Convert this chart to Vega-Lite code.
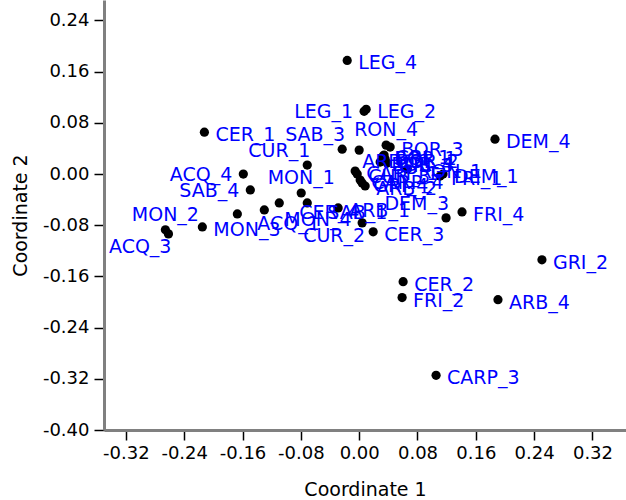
{
  "$schema": "https://vega.github.io/schema/vega-lite/v6.json",
  "width": 522,
  "height": 430,
  "autosize": {"type": "none"},
  "padding": {"left": 104, "top": 0, "right": 0, "bottom": 70},
  "background": "white",
  "config": {"view": {"stroke": null}, "font": "DejaVu Sans"},
  "data": {"values": [
    {"label": "LEG_4", "x": -0.0164, "y": 0.1776},
    {"label": "LEG_2", "x": 0.0096, "y": 0.1012},
    {"label": "LEG_1", "x": 0.0068, "y": 0.0981},
    {"label": "CER_1", "x": -0.2123, "y": 0.0654},
    {"label": "DEM_4", "x": 0.1863, "y": 0.0545},
    {"label": "SAB_3", "x": -0.0233, "y": 0.0389},
    {"label": "ARB_3", "x": 0.0, "y": 0.0374},
    {"label": "RON_4", "x": 0.037, "y": 0.0452},
    {"label": "BOR_3", "x": 0.0425, "y": 0.0421},
    {"label": "CUR_1", "x": -0.0712, "y": 0.014},
    {"label": "ACQ_4", "x": -0.1589, "y": 0.0},
    {"label": "SAB_4", "x": -0.1493, "y": -0.0249},
    {"label": "MON_1", "x": -0.0795, "y": -0.0296},
    {"label": "MON_3", "x": -0.2151, "y": -0.0826},
    {"label": "MON_2", "x": -0.2658, "y": -0.0872},
    {"label": "ACQ_3", "x": -0.2616, "y": -0.0935},
    {"label": "ACQ_1", "x": -0.1671, "y": -0.0623},
    {"label": "MON_4", "x": -0.1301, "y": -0.0561},
    {"label": "CER_4", "x": -0.1096, "y": -0.0452},
    {"label": "SAB_1", "x": -0.0712, "y": -0.0452},
    {"label": "ARB_1", "x": -0.0288, "y": -0.053},
    {"label": "CUR_2", "x": 0.0041, "y": -0.0763},
    {"label": "CER_3", "x": 0.0192, "y": -0.0903},
    {"label": "DEM_3", "x": 0.1192, "y": -0.0685},
    {"label": "FRI_4", "x": 0.1411, "y": -0.0592},
    {"label": "GRI_2", "x": 0.2507, "y": -0.134},
    {"label": "CER_2", "x": 0.0603, "y": -0.1682},
    {"label": "FRI_2", "x": 0.0589, "y": -0.1931},
    {"label": "ARB_4", "x": 0.1904, "y": -0.1963},
    {"label": "CARP_3", "x": 0.1055, "y": -0.3146},
    {"label": "DEM_1", "x": 0.1151, "y": 0.0},
    {"label": "FRI_1", "x": 0.111, "y": -0.0031},
    {"label": "BOR_1", "x": 0.0329, "y": 0.028},
    {"label": "BOR_2", "x": 0.0356, "y": 0.0234},
    {"label": "BOR_4", "x": 0.0288, "y": 0.0187},
    {"label": "GRI_1", "x": 0.0342, "y": 0.0296},
    {"label": "GRI_3", "x": 0.0384, "y": 0.0171},
    {"label": "CARP_1", "x": -0.0055, "y": 0.0047},
    {"label": "CUR_3", "x": -0.0027, "y": 0.0},
    {"label": "CARP_4", "x": 0.0014, "y": -0.0093},
    {"label": "GRI_4", "x": 0.0041, "y": -0.014},
    {"label": "RON_1", "x": 0.0658, "y": 0.0078},
    {"label": "ARB_2", "x": 0.0082, "y": -0.0187}
  ]},
  "encoding": {
    "x": {
      "field": "x", "type": "quantitative",
      "scale": {"domain": [-0.35, 0.366], "nice": false, "zero": false},
      "axis": {
        "title": "Coordinate 1",
        "values": [-0.32, -0.24, -0.16, -0.08, 0, 0.08, 0.16, 0.24, 0.32],
        "labelExpr": "replace(format(datum.value, '.2f'), '\u2212', '-')",
        "grid": false,
        "domainColor": "#808080", "domainWidth": 3,
        "tickColor": "#000000", "tickSize": 10, "tickWidth": 1.5,
        "labelFontSize": 18, "labelColor": "#000000", "labelPadding": 4, "labelFont": "DejaVu Sans",
        "titleFontSize": 19, "titleFontWeight": "normal", "titleColor": "#000000", "titlePadding": 18, "titleFont": "DejaVu Sans"
      }
    },
    "y": {
      "field": "y", "type": "quantitative",
      "scale": {"domain": [-0.4, 0.272], "nice": false, "zero": false},
      "axis": {
        "title": "Coordinate 2",
        "values": [-0.4, -0.32, -0.24, -0.16, -0.08, 0, 0.08, 0.16, 0.24],
        "labelExpr": "replace(format(datum.value, '.2f'), '\u2212', '-')",
        "grid": false,
        "domainColor": "#808080", "domainWidth": 3,
        "tickColor": "#000000", "tickSize": 10, "tickWidth": 1.5,
        "labelFontSize": 18, "labelColor": "#000000", "labelPadding": 5, "labelFont": "DejaVu Sans",
        "titleFontSize": 19, "titleFontWeight": "normal", "titleColor": "#000000", "titlePadding": 12, "titleFont": "DejaVu Sans"
      }
    }
  },
  "layer": [
    {"mark": {"type": "circle", "size": 85, "color": "#000000", "opacity": 1}},
    {
      "transform": [{"filter": {"field": "label", "oneOf": ["LEG_4", "LEG_2", "CER_1", "DEM_4", "BOR_3", "MON_3", "ARB_1", "CER_3", "FRI_4", "GRI_2", "CER_2", "FRI_2", "ARB_4", "CARP_3", "DEM_1", "FRI_1", "BOR_1", "BOR_2", "BOR_4", "GRI_1", "GRI_3", "CARP_1", "CUR_3", "CARP_4", "GRI_4", "RON_1", "ARB_2"]}}],
      "mark": {"type": "text", "align": "left", "baseline": "middle", "dx": 11, "dy": 3, "color": "#0000ff", "fontSize": 19, "font": "DejaVu Sans"},
      "encoding": {"text": {"field": "label"}}
    },
    {
      "transform": [{"filter": {"field": "label", "oneOf": ["LEG_1", "ACQ_4", "SAB_4"]}}],
      "mark": {"type": "text", "align": "right", "baseline": "middle", "dx": -11, "dy": 1, "color": "#0000ff", "fontSize": 19, "font": "DejaVu Sans"},
      "encoding": {"text": {"field": "label"}}
    },
    {
      "transform": [{"filter": {"field": "label", "oneOf": ["RON_4", "MON_1", "MON_2"]}}],
      "mark": {"type": "text", "align": "center", "baseline": "middle", "dx": 0, "dy": -15, "color": "#0000ff", "fontSize": 19, "font": "DejaVu Sans"},
      "encoding": {"text": {"field": "label"}}
    },
    {
      "transform": [{"filter": {"field": "label", "oneOf": ["SAB_3", "CUR_1", "DEM_3"]}}],
      "mark": {"type": "text", "align": "right", "baseline": "middle", "dx": 3, "dy": -14, "color": "#0000ff", "fontSize": 19, "font": "DejaVu Sans"},
      "encoding": {"text": {"field": "label"}}
    },
    {
      "transform": [{"filter": {"field": "label", "oneOf": ["ACQ_3", "CUR_2"]}}],
      "mark": {"type": "text", "align": "right", "baseline": "middle", "dx": 3, "dy": 13, "color": "#0000ff", "fontSize": 19, "font": "DejaVu Sans"},
      "encoding": {"text": {"field": "label"}}
    },
    {
      "transform": [{"filter": {"field": "label", "oneOf": ["ARB_3"]}}],
      "mark": {"type": "text", "align": "left", "baseline": "middle", "dx": 3, "dy": 12, "color": "#0000ff", "fontSize": 19, "font": "DejaVu Sans"},
      "encoding": {"text": {"field": "label"}}
    },
    {
      "transform": [{"filter": {"field": "label", "oneOf": ["ACQ_1", "MON_4", "CER_4", "SAB_1"]}}],
      "mark": {"type": "text", "align": "left", "baseline": "middle", "dx": 20, "dy": 10, "color": "#0000ff", "fontSize": 19, "font": "DejaVu Sans"},
      "encoding": {"text": {"field": "label"}}
    }
  ]
}
